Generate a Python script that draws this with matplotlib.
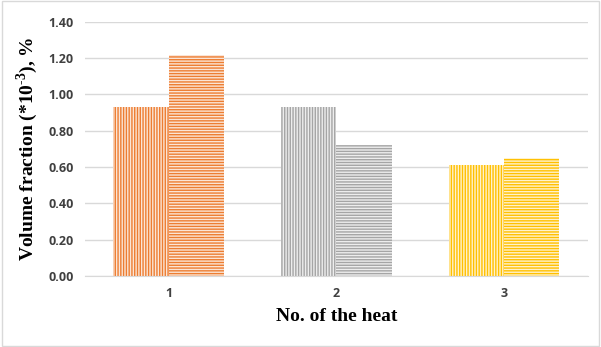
import matplotlib
matplotlib.use("Agg")
import matplotlib.pyplot as plt
import numpy as np

heats = ["1", "2", "3"]
series_a = [0.93, 0.93, 0.61]
series_b = [1.22, 0.72, 0.65]
bar_colors = ["#ED7D31", "#A5A5A5", "#FFC000"]
tint_colors = ["#FBE5D6", "#EDEDED", "#FFF2CC"]
yticks = [0.0, 0.2, 0.4, 0.6, 0.8, 1.0, 1.2, 1.4]

plt.rcParams["hatch.linewidth"] = 1.0
plt.rcParams["mathtext.fontset"] = "custom"
plt.rcParams["mathtext.rm"] = "Liberation Serif:bold"
plt.rcParams["mathtext.bf"] = "Liberation Serif:bold"

fig = plt.figure(figsize=(6.01, 3.47), dpi=100)
fig.patches.append(plt.Rectangle((0.003, 0.003), 0.994, 0.994, transform=fig.transFigure,
                                 fill=False, edgecolor="#D9D9D9", linewidth=1))
ax = fig.add_axes([0.141, 0.205, 0.837, 0.732])

x = np.arange(1, len(heats) + 1)
w = 0.33
for i in range(len(heats)):
    ax.bar(x[i] - w / 2, series_a[i], width=w, facecolor=tint_colors[i],
           edgecolor=bar_colors[i], hatch="||||||", linewidth=0, zorder=2)
    ax.bar(x[i] + w / 2, series_b[i], width=w, facecolor=tint_colors[i],
           edgecolor=bar_colors[i], hatch="------", linewidth=0, zorder=2)

ax.set_xlim(0.5, 3.5)
ax.set_ylim(0, 1.4)
ax.set_yticks(yticks)
ax.set_yticklabels([f"{v:.2f}" for v in yticks])
ax.set_xticks(x)
ax.set_xticklabels(heats)
ax.grid(axis="y", color="#D9D9D9", linewidth=1, zorder=0)
ax.set_axisbelow(True)
for s in ["top", "right", "left"]:
    ax.spines[s].set_visible(False)
ax.spines["bottom"].set_color("#D9D9D9")
ax.tick_params(length=0, labelsize=9, pad=8)
for lab in ax.get_xticklabels() + ax.get_yticklabels():
    lab.set_fontweight("bold")
    lab.set_fontfamily("Open Sans")
    lab.set_color("#404040")

ax.set_xlabel("No. of the heat", fontfamily="Liberation Serif", fontweight="bold",
              fontsize=14, labelpad=6)
ax.set_ylabel("Volume fraction (*10$^{\\text{-}3}$), %", fontfamily="Liberation Serif",
              fontweight="bold", fontsize=14, labelpad=6)

fig.savefig("out.png", dpi=100)
